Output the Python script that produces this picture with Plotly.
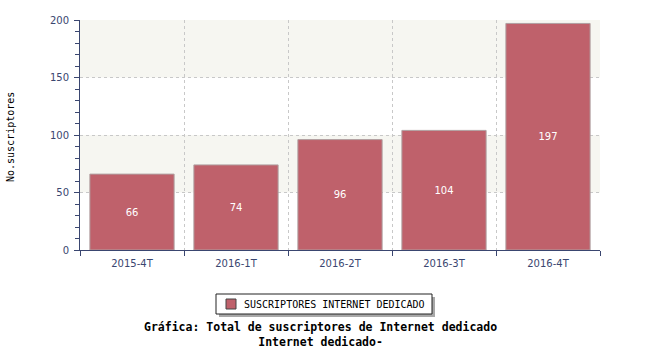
import plotly.graph_objects as go

categories = ["2015-4T", "2016-1T", "2016-2T", "2016-3T", "2016-4T"]
values = [66, 74, 96, 104, 197]
series_name = "SUSCRIPTORES INTERNET DEDICADO"
y_title = "No.suscriptores"
chart_title = "Gráfica: Total de suscriptores de Internet dedicado<br>Internet dedicado-"

bar_color = "#bf616b"
axis_color = "#3a4670"

L, R, T, B = 80, 600, 20, 250
W, H = R - L, B - T


def px(x):
    return (x - L) / W


def py(y):
    return (B - y) / H


fig = go.Figure()
fig.add_trace(go.Bar(
    x=categories, y=values, name=series_name,
    marker=dict(color=bar_color, line=dict(color="#b0a0a2", width=1)),
    width=0.81,
    text=[str(v) for v in values], textposition="inside", insidetextanchor="middle",
    textfont=dict(family="DejaVu Sans", size=10, color="white"),
    showlegend=False,
))

shapes = []
for lo, hi in [(50, 100), (150, 200)]:
    shapes.append(dict(type="rect", xref="paper", yref="y", x0=0, x1=1, y0=lo, y1=hi,
                       fillcolor="#f6f6f1", line=dict(width=0), layer="below"))
# legend box (shadow, frame, swatch)
shapes.append(dict(type="rect", xref="paper", yref="paper",
                   x0=px(219), x1=px(435), y0=py(317), y1=py(297),
                   fillcolor="#a8a8a8", line=dict(width=0), layer="above"))
shapes.append(dict(type="rect", xref="paper", yref="paper",
                   x0=px(216), x1=px(432), y0=py(314), y1=py(294),
                   fillcolor="white", line=dict(width=1, color="#222222"), layer="above"))
shapes.append(dict(type="rect", xref="paper", yref="paper",
                   x0=px(226), x1=px(236), y0=py(309), y1=py(299),
                   fillcolor=bar_color, line=dict(width=1, color="#444444"), layer="above"))

annotations = [
    dict(text=series_name, xref="paper", yref="paper", x=px(242), y=py(304),
         xanchor="left", yanchor="middle", showarrow=False,
         font=dict(family="DejaVu Sans Mono", size=10, color="black")),
    dict(text=chart_title, xref="paper", yref="paper",
         x=px(320), y=py(318), xanchor="center", yanchor="top",
         showarrow=False, align="center",
         font=dict(family="DejaVu Sans Mono", size=11.5, color="black", weight="bold")),
    dict(text=y_title, xref="paper", yref="paper", x=px(10), y=py(137),
         xanchor="center", yanchor="middle", textangle=-90, showarrow=False,
         font=dict(family="DejaVu Sans Mono", size=10, color="black")),
]

fig.update_layout(
    width=650, height=350,
    margin=dict(l=L, r=650 - R, t=T, b=350 - B, autoexpand=False),
    plot_bgcolor="white", paper_bgcolor="white",
    shapes=shapes, annotations=annotations,
    showlegend=False,
    font=dict(family="DejaVu Sans", size=10, color=axis_color),
)

fig.update_xaxes(
    type="category", range=[-0.5, 4.5], tickson="boundaries", automargin=False,
    showline=True, linecolor=axis_color, linewidth=1,
    ticks="outside", ticklen=5, tickcolor=axis_color,
    showgrid=True, gridcolor="#c8c8c8", griddash="3px,3px", gridwidth=1,
    tickfont=dict(family="DejaVu Sans", size=10, color=axis_color),
    ticklabelstandoff=4,
)
fig.update_yaxes(
    range=[0, 200], dtick=50, automargin=False,
    showline=True, linecolor=axis_color, linewidth=1,
    ticks="outside", ticklen=5, tickcolor=axis_color,
    minor=dict(dtick=10, ticks="outside", ticklen=4, tickcolor=axis_color, showgrid=False),
    showgrid=True, gridcolor="#c8c8c8", griddash="3px,3px", gridwidth=1,
    zeroline=False,
    tickfont=dict(family="DejaVu Sans", size=10, color=axis_color),
    ticklabelstandoff=3,
)

fig.write_html("out.html")
